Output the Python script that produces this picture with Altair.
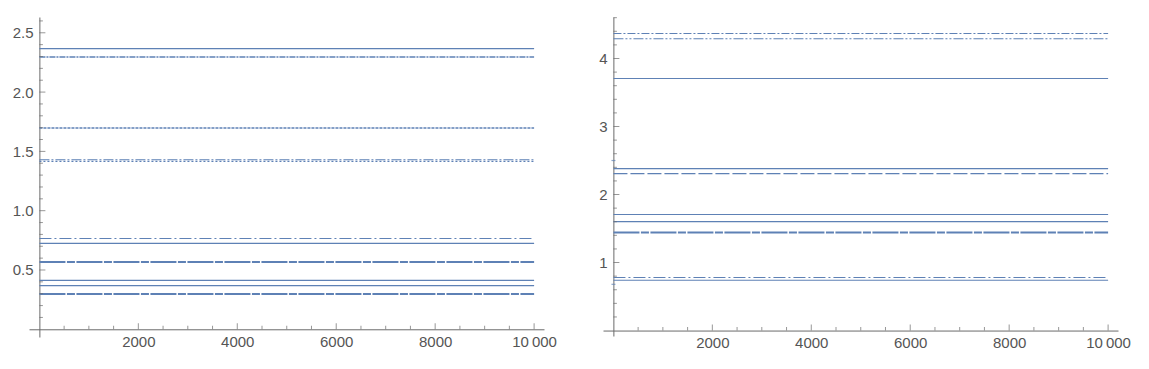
import altair as alt
import pandas as pd

# ---- data ----
left_values = [2.367, 2.296, 1.697, 1.430, 1.416, 0.765, 0.725, 0.567, 0.413, 0.368, 0.298]
left_styles = ["solid", "dashdot_dense", "dotted_dense", "dashdot", "dotted",
               "dashdot_long", "solid", "gapped", "solid", "solid", "gapped"]

right_values = [4.368, 4.290, 3.706, 2.380, 2.306, 1.706, 1.603, 1.441, 0.780, 0.740]
right_styles = ["dashdotdot", "dashdotdot2", "solid", "solid", "dashed",
                "solid", "solid", "gapped", "dashdot_long", "solid"]

right_outlier_y = [2.50, 0.68]
outlier_x = 1

x_first = 1
x_last = 10000

x_major = [2000, 4000, 6000, 8000, 10000]
x_minor = [500, 1000, 1500, 2500, 3000, 3500, 4500, 5000, 5500,
           6500, 7000, 7500, 8500, 9000, 9500]
left_y_major = [0.5, 1.0, 1.5, 2.0, 2.5]
left_y_minor = [0.1, 0.2, 0.3, 0.4, 0.6, 0.7, 0.8, 0.9, 1.1, 1.2, 1.3, 1.4,
                1.6, 1.7, 1.8, 1.9, 2.1, 2.2, 2.3, 2.4, 2.6]
right_y_major = [1, 2, 3, 4]
right_y_minor = [0.2, 0.4, 0.6, 0.8, 1.2, 1.4, 1.6, 1.8, 2.2, 2.4, 2.6, 2.8,
                 3.2, 3.4, 3.6, 3.8, 4.2, 4.4, 4.6]

# ---- styles ----
BLUE = "#5E81B5"
AX = "#6b6b6b"
LAB = "#555555"
FONT = "Liberation Sans"

STYLE = {
    "solid": ([1, 0], 1.2),
    "dashdot_dense": ([6, 1, 2, 1], 1.6),
    "dotted_dense": ([3, 1], 1.3),
    "dashdot": ([10, 2, 2, 2], 1.1),
    "dotted": ([2, 2], 1.1),
    "dashdot_long": ([12, 3, 2, 3], 1.1),
    "gapped": ([26, 1.5, 8, 1.5], 2.0),
    "dashdotdot": ([8, 2, 2, 2], 1.1),
    "dashdotdot2": ([10, 2, 2, 2, 2, 2], 1.1),
    "dashed": ([14, 3], 1.2),
}

W = 515
XDOM = [-210, 10200]


def panel(values, styles, ydom, H, y_major, y_minor, y_fmt, outliers=None):
    xs = alt.Scale(domain=XDOM, nice=False, zero=False)
    ys = alt.Scale(domain=ydom, nice=False, zero=False)
    y0_off = -(0 - ydom[0]) / (ydom[1] - ydom[0]) * H
    x0_off = -(0 - XDOM[0]) / (XDOM[1] - XDOM[0]) * W

    df = pd.DataFrame({"v": values, "style": styles,
                       "x1": [x_first] * len(values), "x2": [x_last] * len(values)})

    xaxis = alt.Axis(values=x_major, title=None, grid=False, ticks=False, tickSize=0,
                     domainColor=AX, domainWidth=1, offset=y0_off, labelPadding=5,
                     labelExpr="datum.value == 10000 ? '10\u2009000' : format(datum.value, 'd')")
    yaxis = alt.Axis(values=y_major, title=None, grid=False, ticks=False, tickSize=0,
                     domainColor=AX, domainWidth=1, offset=x0_off, labelPadding=6.4,
                     format=y_fmt)

    layers = []
    first = True
    for st in dict.fromkeys(styles):
        dash, sw = STYLE[st]
        ch = alt.Chart(df).transform_filter(alt.datum.style == st)
        if first:
            enc = dict(x=alt.X("x1:Q", scale=xs, axis=xaxis),
                       x2="x2:Q",
                       y=alt.Y("v:Q", scale=ys, axis=yaxis))
            first = False
        else:
            enc = dict(x=alt.X("x1:Q", scale=xs), x2="x2:Q", y=alt.Y("v:Q", scale=ys))
        if dash == [1, 0]:
            m = ch.mark_rule(color=BLUE, strokeWidth=sw)
        else:
            m = ch.mark_rule(color=BLUE, strokeWidth=sw, strokeDash=dash)
        layers.append(m.encode(**enc))

    # tick marks pointing into the plot
    layers.append(alt.Chart(pd.DataFrame({"t": x_major})).mark_tick(
        orient="vertical", size=6, thickness=1, yOffset=-3, color=AX).encode(
        x=alt.X("t:Q", scale=xs), y=alt.datum(0)))
    layers.append(alt.Chart(pd.DataFrame({"t": x_minor})).mark_tick(
        orient="vertical", size=3.5, thickness=1, yOffset=-1.75, color=AX).encode(
        x=alt.X("t:Q", scale=xs), y=alt.datum(0)))
    layers.append(alt.Chart(pd.DataFrame({"t": y_major})).mark_tick(
        orient="horizontal", size=6, thickness=1, xOffset=3, color=AX).encode(
        y=alt.Y("t:Q", scale=ys), x=alt.datum(0)))
    layers.append(alt.Chart(pd.DataFrame({"t": y_minor})).mark_tick(
        orient="horizontal", size=3.5, thickness=1, xOffset=1.75, color=AX).encode(
        y=alt.Y("t:Q", scale=ys), x=alt.datum(0)))

    if outliers:
        layers.append(alt.Chart(pd.DataFrame({"x": [outlier_x] * len(outliers), "y": outliers}))
                      .mark_tick(orient="horizontal", size=4, thickness=1.2, color=BLUE)
                      .encode(x=alt.X("x:Q", scale=xs), y=alt.Y("y:Q", scale=ys)))

    return alt.layer(*layers).properties(width=W, height=H)


left = panel(left_values, left_styles, [-0.065, 2.633], 320, left_y_major, left_y_minor, ".1f")
right = panel(right_values, right_styles, [-0.08, 4.61], 319, right_y_major, right_y_minor, "d",
              outliers=right_outlier_y)

chart = alt.hconcat(left, right, spacing=41).properties(
    padding={"left": 4, "top": 9, "right": 0, "bottom": 0}
).configure_view(strokeWidth=0).configure_axis(
    labelFont=FONT, labelFontSize=15, labelColor=LAB
)

chart.save("out.html", embed_options={"renderer": "svg", "actions": False})
